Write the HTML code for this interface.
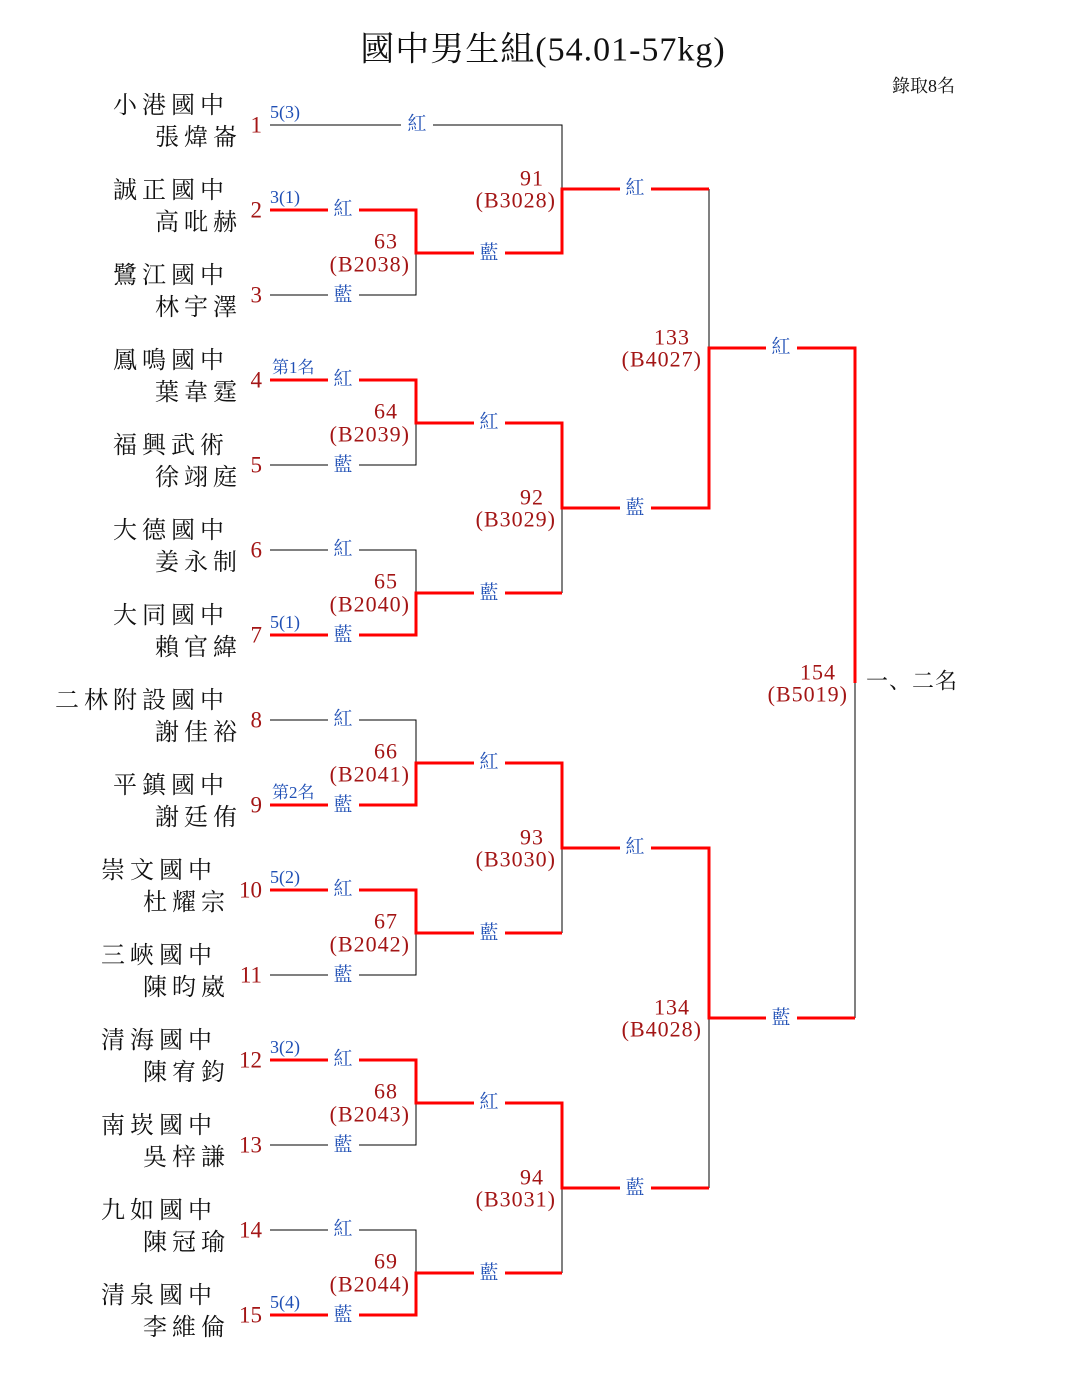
<!DOCTYPE html>
<html><head><meta charset="utf-8">
<style>
html,body{margin:0;padding:0;background:#fff;}
svg{display:block;}
.k{stroke:#000;stroke-width:1;fill:none;}
.r{stroke:#f00;stroke-width:3;fill:none;}
.n{font-family:"Liberation Serif","Noto Serif CJK SC",serif;font-size:24px;fill:#111;letter-spacing:5px;text-anchor:end;dominant-baseline:central;}
.e{font-family:"Liberation Serif",serif;font-size:23px;fill:#a31515;text-anchor:end;dominant-baseline:central;}
.s{font-family:"Liberation Serif","Noto Serif CJK SC",serif;font-size:18px;fill:#1f4fb5;}
.l{font-family:"Liberation Serif","Noto Serif CJK SC",serif;font-size:19px;fill:#1f4fb5;text-anchor:middle;dominant-baseline:central;}
.m{font-family:"Liberation Serif",serif;font-size:22px;fill:#a31515;text-anchor:end;dominant-baseline:central;letter-spacing:1px;}
.g{fill:#fff;}
</style></head><body>
<svg width="1085" height="1400" viewBox="0 0 1085 1400" xmlns="http://www.w3.org/2000/svg">
<text x="543" y="50" text-anchor="middle" dominant-baseline="central" font-family="Liberation Serif, Noto Serif CJK SC, serif" font-size="34" fill="#111" letter-spacing="1">國中男生組(54.01-57kg)</text>
<text x="955" y="86" text-anchor="end" dominant-baseline="central" font-family="Liberation Serif, Noto Serif CJK SC, serif" font-size="18" fill="#111">錄取8名</text>

<path class="k" d="M270 125H562V189 M270 295H416V253 M709 189V348 M270 465H416V423 M270 550H416V593 M562 508V593 M270 720H416V763 M270 975H416V933 M562 848V933 M270 1145H416V1103 M270 1230H416V1273 M562 1188V1273 M709 1018V1188 M855 683V1018"/>
<path class="r" d="M270 210H416V253H562V189H709"/>
<path class="r" d="M270 380H416V423H562V508H709V348H855V683"/>
<path class="r" d="M270 635H416V593H562"/>
<path class="r" d="M270 805H416V763H562V848H709V1018H855"/>
<path class="r" d="M270 890H416V933H562"/>
<path class="r" d="M270 1060H416V1103H562V1188H709"/>
<path class="r" d="M270 1315H416V1273H562"/>

<g class="g">
<rect x="401" y="118" width="32" height="14"/>
<rect x="328" y="202" width="31" height="16"/><rect x="328" y="287" width="31" height="16"/>
<rect x="328" y="372" width="31" height="16"/><rect x="328" y="457" width="31" height="16"/>
<rect x="328" y="542" width="31" height="16"/><rect x="328" y="627" width="31" height="16"/>
<rect x="328" y="712" width="31" height="16"/><rect x="328" y="797" width="31" height="16"/>
<rect x="328" y="882" width="31" height="16"/><rect x="328" y="967" width="31" height="16"/>
<rect x="328" y="1052" width="31" height="16"/><rect x="328" y="1137" width="31" height="16"/>
<rect x="328" y="1222" width="31" height="16"/><rect x="328" y="1307" width="31" height="16"/>
<rect x="474" y="245" width="31" height="16"/><rect x="474" y="415" width="31" height="16"/>
<rect x="474" y="585" width="31" height="16"/><rect x="474" y="755" width="31" height="16"/>
<rect x="474" y="925" width="31" height="16"/><rect x="474" y="1095" width="31" height="16"/>
<rect x="474" y="1265" width="31" height="16"/>
<rect x="620" y="181" width="31" height="16"/><rect x="620" y="500" width="31" height="16"/>
<rect x="620" y="840" width="31" height="16"/><rect x="620" y="1180" width="31" height="16"/>
<rect x="766" y="340" width="31" height="16"/><rect x="766" y="1010" width="31" height="16"/>
</g>
<g class="l">
<text x="417" y="124">紅</text>
<text x="343" y="209">紅</text><text x="343" y="295">藍</text>
<text x="343" y="379">紅</text><text x="343" y="465">藍</text>
<text x="343" y="549">紅</text><text x="343" y="635">藍</text>
<text x="343" y="719">紅</text><text x="343" y="805">藍</text>
<text x="343" y="889">紅</text><text x="343" y="975">藍</text>
<text x="343" y="1059">紅</text><text x="343" y="1145">藍</text>
<text x="343" y="1229">紅</text><text x="343" y="1315">藍</text>
<text x="489" y="253">藍</text><text x="489" y="422">紅</text>
<text x="489" y="593">藍</text><text x="489" y="762">紅</text>
<text x="489" y="933">藍</text><text x="489" y="1102">紅</text>
<text x="489" y="1273">藍</text>
<text x="635" y="188">紅</text><text x="635" y="508">藍</text>
<text x="635" y="847">紅</text><text x="635" y="1188">藍</text>
<text x="781" y="347">紅</text><text x="781" y="1018">藍</text>
</g>

<g class="s">
<text x="270" y="118">5(3)</text>
<text x="270" y="203">3(1)</text>
<text x="272" y="373" font-size="17">第1名</text>
<text x="270" y="628">5(1)</text>
<text x="272" y="798" font-size="17">第2名</text>
<text x="270" y="883">5(2)</text>
<text x="270" y="1053">3(2)</text>
<text x="270" y="1308">5(4)</text>
</g>

<g class="e">
<text x="262" y="125">1</text><text x="262" y="210">2</text><text x="262" y="295">3</text>
<text x="262" y="380">4</text><text x="262" y="465">5</text><text x="262" y="550">6</text>
<text x="262" y="635">7</text><text x="262" y="720">8</text><text x="262" y="805">9</text>
<text x="262" y="890">10</text><text x="262" y="975">11</text><text x="262" y="1060">12</text>
<text x="262" y="1145">13</text><text x="262" y="1230">14</text><text x="262" y="1315">15</text>
</g>

<g class="n">
<text x="229" y="106">小港國中</text><text x="242" y="138">張煒崙</text>
<text x="229" y="191">誠正國中</text><text x="242" y="223">高吡赫</text>
<text x="229" y="276">鷺江國中</text><text x="242" y="308">林宇澤</text>
<text x="229" y="361">鳳鳴國中</text><text x="242" y="393">葉韋霆</text>
<text x="229" y="446">福興武術</text><text x="242" y="478">徐翊庭</text>
<text x="229" y="531">大德國中</text><text x="242" y="563">姜永制</text>
<text x="229" y="616">大同國中</text><text x="242" y="648">賴官緯</text>
<text x="229" y="701">二林附設國中</text><text x="242" y="733">謝佳裕</text>
<text x="229" y="786">平鎮國中</text><text x="242" y="818">謝廷侑</text>
<text x="217" y="871">崇文國中</text><text x="230" y="903">杜耀宗</text>
<text x="217" y="956">三峽國中</text><text x="230" y="988">陳昀崴</text>
<text x="217" y="1041">清海國中</text><text x="230" y="1073">陳宥鈞</text>
<text x="217" y="1126">南崁國中</text><text x="230" y="1158">吳梓謙</text>
<text x="217" y="1211">九如國中</text><text x="230" y="1243">陳冠瑜</text>
<text x="217" y="1296">清泉國中</text><text x="230" y="1328">李維倫</text>
</g>

<g class="m">
<text x="398" y="241">63</text><text x="410" y="264">(B2038)</text>
<text x="398" y="411">64</text><text x="410" y="434">(B2039)</text>
<text x="398" y="581">65</text><text x="410" y="604">(B2040)</text>
<text x="398" y="751">66</text><text x="410" y="774">(B2041)</text>
<text x="398" y="921">67</text><text x="410" y="944">(B2042)</text>
<text x="398" y="1091">68</text><text x="410" y="1114">(B2043)</text>
<text x="398" y="1261">69</text><text x="410" y="1284">(B2044)</text>
<text x="544" y="178">91</text><text x="556" y="200">(B3028)</text>
<text x="544" y="497">92</text><text x="556" y="519">(B3029)</text>
<text x="544" y="837">93</text><text x="556" y="859">(B3030)</text>
<text x="544" y="1177">94</text><text x="556" y="1199">(B3031)</text>
<text x="690" y="337">133</text><text x="702" y="359">(B4027)</text>
<text x="690" y="1007">134</text><text x="702" y="1029">(B4028)</text>
<text x="836" y="672">154</text><text x="848" y="694">(B5019)</text>
</g>
<text x="866" y="681" dominant-baseline="central" font-family="Liberation Serif, Noto Serif CJK SC, serif" font-size="22" fill="#111" letter-spacing="1">一、二名</text>
</svg>
</body></html>
